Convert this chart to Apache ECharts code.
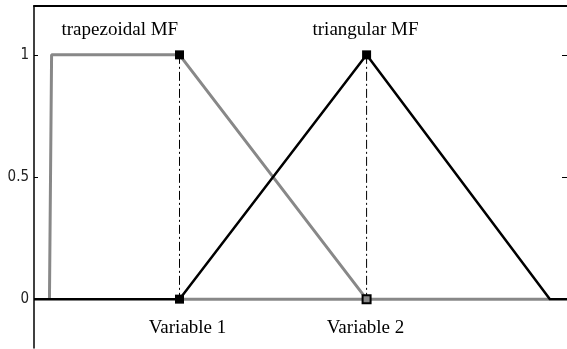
<!DOCTYPE html>
<html>
<head>
<meta charset="utf-8">
<script src="https://cdn.jsdelivr.net/npm/echarts@6/dist/echarts.min.js"></script>
<style>
  html, body { margin: 0; padding: 0; background: #fff; }
  #chart { width: 567px; height: 349px; }
</style>
</head>
<body>
<div id="chart"></div>
<script>
// membership functions, x in arbitrary units 0..10
const trapezoid = [[0.29, 0], [0.33, 1], [2.73, 1], [6.24, 0]]
const trapezoidBase = [[2.73, 0], [9.68, 0]]
const triangle = [[0, 0], [2.73, 0], [6.24, 1], [9.68, 0], [10, 0]]
const guide1 = [[2.73, 1], [2.73, 0]]
const guide2 = [[6.24, 1], [6.24, 0]]
const solidPoints = [[2.73, 1], [2.73, 0], [6.24, 1]]
const hollowPoints = [[6.24, 0]]
const yTicks = [0, 0.5, 1]
// annotation texts and where they sit (data coords)
const notes = [
  { text: 'trapezoidal MF', at: [1.61, 1.10] },
  { text: 'triangular MF', at: [6.22, 1.10] },
  { text: 'Variable 1', at: [2.88, -0.12] },
  { text: 'Variable 2', at: [6.22, -0.12] }
]

const myChart = echarts.init(document.getElementById('chart'))

const dashDot = { color: '#000', width: 1, type: [9, 3, 2, 3] }

const option = {
  animation: false,
  grid: { left: 34, top: 6, width: 534, height: 342 },
  xAxis: {
    type: 'value', min: 0, max: 10, position: 'top',
    axisLine: { show: true, onZero: false, lineStyle: { color: '#000', width: 2 } },
    axisTick: { show: false }, axisLabel: { show: false }, splitLine: { show: false }
  },
  yAxis: [{
    type: 'value', min: -0.2, max: 1.2, position: 'left',
    axisLine: { show: true, onZero: false, lineStyle: { color: '#000', width: 1.5 } },
    axisTick: { show: true, inside: true, length: 4, customValues: yTicks, lineStyle: { color: '#000' } },
    axisLabel: {
      customValues: yTicks, margin: 5, color: '#222',
      fontFamily: 'DejaVu Sans Condensed, DejaVu Sans', fontSize: 15
    },
    splitLine: { show: false }
  }, {
    type: 'value', min: -0.2, max: 1.2, position: 'right',
    axisLine: { show: true, onZero: false, lineStyle: { color: '#000' } },
    axisTick: { show: true, inside: true, length: 5, customValues: yTicks, lineStyle: { color: '#000' } },
    axisLabel: { show: false }, splitLine: { show: false }
  }],
  series: [
    { type: 'line', data: trapezoid, symbol: 'none', lineStyle: { color: '#888', width: 3 }, z: 2 },
    { type: 'line', data: trapezoidBase, symbol: 'none', lineStyle: { color: '#888', width: 3 }, z: 2 },
    { type: 'line', data: triangle, symbol: 'none', lineStyle: { color: '#000', width: 2.5 }, z: 3 },
    { type: 'line', data: guide1, symbol: 'none', lineStyle: dashDot, z: 3 },
    { type: 'line', data: guide2, symbol: 'none', lineStyle: dashDot, z: 3 },
    { type: 'scatter', data: solidPoints, symbol: 'rect', symbolSize: 9, itemStyle: { color: '#000', opacity: 1 }, z: 4 },
    { type: 'scatter', data: hollowPoints, symbol: 'rect', symbolSize: 8,
      itemStyle: { color: '#888', borderColor: '#000', borderWidth: 2, opacity: 1 }, z: 4 }
  ]
}

myChart.setOption(option)

// place the text annotations through the chart's own scales
myChart.setOption({
  graphic: notes.map(n => {
    const p = myChart.convertToPixel({ gridIndex: 0 }, n.at)
    return {
      type: 'text', x: p[0], y: p[1], z: 10,
      style: {
        text: n.text, fill: '#000', align: 'center', verticalAlign: 'middle',
        font: '19px "Liberation Serif", "Times New Roman", serif'
      }
    }
  })
})
</script>
</body>
</html>
